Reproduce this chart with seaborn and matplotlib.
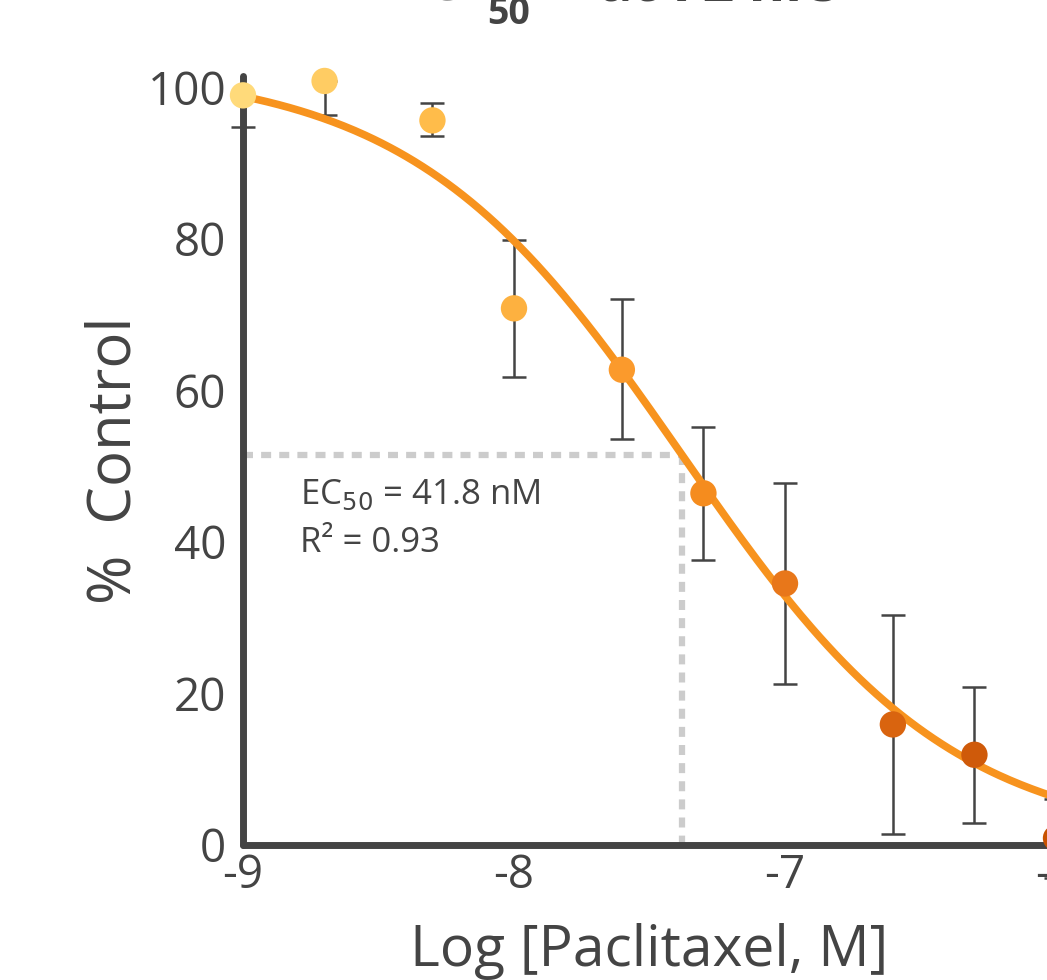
import numpy as np
import pandas as pd
import matplotlib
matplotlib.use("Agg")
import matplotlib.pyplot as plt
import seaborn as sns

# data
log_conc = [-9.0, -8.699, -8.301, -8.0, -7.602, -7.301, -7.0, -6.602, -6.301, -6.0]
pct_control = [98.9, 100.8, 95.6, 70.8, 62.7, 46.4, 34.5, 15.9, 11.9, 0.9]
err_low = [4.2, 4.5, 2.1, 9.0, 9.2, 8.8, 13.3, 14.5, 9.0, 5.2]
err_high = [0.0, 0.0, 2.3, 9.0, 9.3, 8.7, 13.3, 14.5, 9.0, 5.2]
point_colors = ["#FFDA7A", "#FFCC63", "#FFBC4A", "#FDB140", "#FB9A2C",
                "#F58C1E", "#E8771A", "#D9640F", "#CF5A0A", "#C85200"]

# fitted 4PL parameters
ec50_nm = 41.8
r_squared = 0.93
fit_top = 102.6
fit_bottom = 0.2
fit_hill = 0.87

sns.set_theme(style="white")
plt.rcParams['font.family'] = ['Open Sans', 'DejaVu Sans']
ink = "#444444"

df = pd.DataFrame({"logc": log_conc, "pct": pct_control,
                   "dose": [str(i) for i in range(len(log_conc))]})

log_ec50 = np.log10(ec50_nm * 1e-9)
xs = np.linspace(-9, -6, 300)
curve = pd.DataFrame({"logc": xs,
                      "pct": fit_bottom + (fit_top - fit_bottom) / (1 + 10 ** ((xs - log_ec50) * fit_hill))})
mid = fit_bottom + (fit_top - fit_bottom) / 2

fig = plt.figure(figsize=(10.47, 9.8), dpi=100)
ax = fig.add_axes([0.2321, 0.1378, 0.7765, 0.785])

# dashed EC50 guides
ax.plot([-9, log_ec50], [mid, mid], color="#CCCCCC", lw=4.5, ls=(0, (1.6, 1.3)), zorder=1)
ax.plot([log_ec50, log_ec50], [mid, 0], color="#CCCCCC", lw=4.5, ls=(0, (1.6, 1.3)), zorder=1)

ax.errorbar(df["logc"], df["pct"], yerr=[err_low, err_high], fmt="none",
            ecolor=ink, elinewidth=1.8, capsize=8.5, capthick=1.8, zorder=2, clip_on=False)

sns.lineplot(data=curve, x="logc", y="pct", color="#F7931E", lw=5.5, ax=ax, zorder=3)

sns.scatterplot(data=df, x="logc", y="pct", hue="dose", palette=point_colors,
                s=360, edgecolor="none", legend=False, ax=ax, zorder=4, clip_on=False)

ax.set_xlim(-9, -6)
ax.set_ylim(0, 101.5)
ax.set_xticks([-9, -8, -7, -6])
ax.set_xticklabels(["-9", "-8", "-7", "-6"])
ax.set_yticks([0, 20, 40, 60, 80, 100])
ax.tick_params(length=0, labelsize=33, labelcolor=ink)
ax.tick_params(axis="y", pad=12)
ax.tick_params(axis="x", pad=6)

for side in ["top", "right"]:
    ax.spines[side].set_visible(False)
for side in ["left", "bottom"]:
    ax.spines[side].set_color(ink)
    ax.spines[side].set_linewidth(5)
    ax.spines[side].set_capstyle("round")

ax.set_xlabel("Log [Paclitaxel, M]", fontsize=41, color=ink, labelpad=17)
ax.set_ylabel("%  Control", fontsize=43, color=ink, labelpad=2)

ax.text(-8.79, 46.2, "EC$_{50}$ = 41.8 nM", fontsize=25, color=ink, va="center", ha="left")
ax.text(-8.79, 39.9, f"R² = {r_squared}", fontsize=25, color=ink, va="center", ha="left")

# title, cut off at the top edge of the picture
fig.text(0.377, 0.9995, "EC", fontsize=40, fontweight="bold", color=ink, ha="left", va="baseline")
fig.text(0.465, 0.975, "50", fontsize=27, fontweight="bold", color=ink, ha="left", va="baseline")
fig.text(0.572, 0.9995, "at 72 hrs", fontsize=40, fontweight="bold", color=ink, ha="left", va="baseline")

fig.savefig("out.png", dpi=100)
